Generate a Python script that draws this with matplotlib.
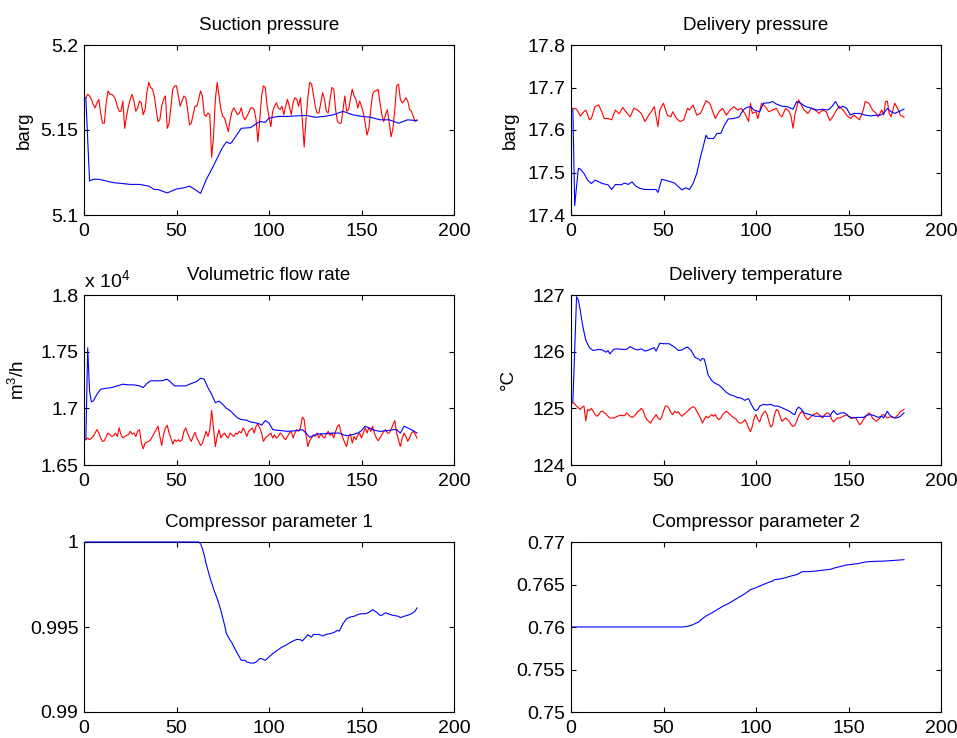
import matplotlib
matplotlib.use("Agg")
import matplotlib.pyplot as plt
from matplotlib.ticker import FuncFormatter

plt.rcParams['font.family'] = ['Liberation Sans', 'DejaVu Sans']
plt.rcParams['font.size'] = 14
plt.rcParams['mathtext.default'] = 'regular'

# ---- measured series (red) sampled every time step ----
t_meas = list(range(1, 181))

suction_meas = [
    5.169, 5.171, 5.170, 5.168, 5.165, 5.163, 5.166, 5.168, 5.160, 5.154,
    5.154, 5.166, 5.173, 5.171, 5.171, 5.170, 5.168, 5.164, 5.161, 5.161,
    5.167, 5.151, 5.158, 5.164, 5.168, 5.171, 5.167, 5.161, 5.163, 5.167,
    5.166, 5.159, 5.162, 5.172, 5.178, 5.175, 5.174, 5.170, 5.162, 5.155,
    5.156, 5.164, 5.168, 5.170, 5.151, 5.154, 5.164, 5.174, 5.176, 5.176,
    5.170, 5.164, 5.167, 5.170, 5.169, 5.162, 5.153, 5.154, 5.159, 5.164,
    5.164, 5.168, 5.173, 5.170, 5.159, 5.158, 5.160, 5.159, 5.134, 5.146,
    5.168, 5.178, 5.170, 5.162, 5.158, 5.157, 5.153, 5.149, 5.156, 5.161,
    5.163, 5.161, 5.159, 5.160, 5.163, 5.158, 5.156, 5.158, 5.160, 5.163,
    5.163, 5.162, 5.156, 5.143, 5.156, 5.170, 5.176, 5.175, 5.164, 5.158,
    5.152, 5.161, 5.164, 5.166, 5.163, 5.162, 5.164, 5.159, 5.164, 5.168,
    5.164, 5.159, 5.166, 5.169, 5.168, 5.164, 5.169, 5.156, 5.140, 5.156,
    5.169, 5.178, 5.177, 5.171, 5.164, 5.160, 5.160, 5.166, 5.172, 5.168,
    5.161, 5.160, 5.168, 5.175, 5.174, 5.162, 5.155, 5.154, 5.154, 5.162,
    5.170, 5.161, 5.162, 5.168, 5.174, 5.170, 5.168, 5.163, 5.167, 5.164,
    5.160, 5.154, 5.147, 5.151, 5.162, 5.171, 5.173, 5.173, 5.174, 5.166,
    5.159, 5.155, 5.159, 5.162, 5.154, 5.146, 5.151, 5.162, 5.176, 5.177,
    5.168, 5.166, 5.167, 5.169, 5.167, 5.162, 5.161, 5.158, 5.155, 5.156,
]

t_deliv_meas = [
    1, 3, 5, 7, 8, 10, 11, 13, 15, 17, 18, 20, 22, 24, 26, 28, 30, 32, 34, 36,
    38, 40, 42, 44, 45, 46, 47, 48, 50, 52, 54, 55, 57, 59, 61, 63, 64, 66, 68, 70,
    72, 73, 75, 77, 78, 80, 82, 84, 86, 88, 90, 92, 94, 96, 97, 98, 100, 101, 103, 105,
    107, 109, 111, 113, 114, 116, 118, 119, 120, 121, 123, 124, 126, 128, 130, 132, 134, 136, 138, 139,
    140, 142, 143, 145, 147, 149, 151, 153, 155, 156, 158, 159, 161, 163, 165, 166, 168, 169, 170, 171,
    172, 173, 175, 176, 177, 178, 180,
]
delivery_meas = [
    17.651, 17.649, 17.633, 17.643, 17.647, 17.624, 17.627, 17.655, 17.659, 17.639,
    17.627, 17.627, 17.624, 17.647, 17.638, 17.653, 17.641, 17.631, 17.651, 17.647,
    17.639, 17.620, 17.635, 17.647, 17.655, 17.631, 17.608, 17.647, 17.663, 17.635,
    17.631, 17.643, 17.627, 17.620, 17.624, 17.651, 17.647, 17.659, 17.635, 17.639,
    17.659, 17.669, 17.663, 17.639, 17.627, 17.643, 17.651, 17.635, 17.647, 17.655,
    17.647, 17.651, 17.639, 17.620, 17.663, 17.639, 17.643, 17.627, 17.663, 17.655,
    17.643, 17.647, 17.651, 17.635, 17.631, 17.651, 17.643, 17.631, 17.604, 17.635,
    17.671, 17.663, 17.647, 17.639, 17.651, 17.647, 17.639, 17.647, 17.643, 17.631,
    17.622, 17.635, 17.643, 17.656, 17.647, 17.635, 17.627, 17.635, 17.627, 17.624,
    17.647, 17.667, 17.663, 17.647, 17.639, 17.631, 17.647, 17.635, 17.667, 17.668,
    17.639, 17.631, 17.663, 17.655, 17.647, 17.635, 17.630,
]

flow_meas = [
    16723, 16738, 16723, 16738, 16752, 16782, 16812, 16782, 16738, 16708,
    16714, 16752, 16782, 16767, 16752, 16758, 16782, 16752, 16827, 16767,
    16738, 16752, 16761, 16767, 16797, 16773, 16782, 16752, 16797, 16812,
    16693, 16643, 16693, 16702, 16708, 16723, 16752, 16782, 16812, 16842,
    16752, 16672, 16767, 16827, 16851, 16782, 16738, 16684, 16723, 16708,
    16723, 16708, 16723, 16797, 16827, 16782, 16738, 16708, 16752, 16788,
    16738, 16708, 16672, 16693, 16744, 16797, 16752, 16812, 16981, 16827,
    16663, 16752, 16812, 16738, 16767, 16782, 16752, 16738, 16782, 16767,
    16752, 16782, 16773, 16797, 16782, 16827, 16797, 16752, 16797, 16812,
    16827, 16782, 16842, 16862, 16827, 16782, 16708, 16738, 16752, 16767,
    16782, 16738, 16767, 16738, 16752, 16782, 16767, 16738, 16723, 16752,
    16782, 16797, 16738, 16782, 16812, 16797, 16827, 16922, 16901, 16767,
    16663, 16714, 16738, 16767, 16752, 16782, 16738, 16773, 16752, 16738,
    16773, 16797, 16761, 16782, 16738, 16797, 16842, 16856, 16782, 16738,
    16693, 16663, 16752, 16773, 16693, 16752, 16723, 16761, 16782, 16738,
    16782, 16827, 16782, 16833, 16797, 16842, 16782, 16738, 16714, 16738,
    16767, 16797, 16812, 16782, 16782, 16812, 16856, 16892, 16782, 16723,
    16663, 16738, 16782, 16752, 16708, 16738, 16782, 16797, 16773, 16738,
]

temp_meas = [
    125.10, 125.08, 125.04, 125.01, 124.98, 125.02, 125.04, 124.78, 124.98, 124.96,
    125.00, 124.95, 124.89, 124.86, 124.89, 124.94, 124.95, 124.92, 124.90, 124.86,
    124.83, 124.83, 124.83, 124.84, 124.86, 124.87, 124.88, 124.87, 124.87, 124.92,
    124.89, 124.86, 124.84, 124.86, 124.89, 124.94, 124.96, 125.00, 124.96, 124.86,
    124.80, 124.77, 124.74, 124.80, 124.84, 124.89, 124.83, 124.80, 124.84, 124.95,
    125.04, 125.04, 125.00, 124.92, 124.89, 124.95, 124.92, 124.94, 124.89, 124.86,
    124.89, 124.92, 124.95, 124.98, 125.01, 125.03, 125.01, 124.95, 124.89, 124.83,
    124.74, 124.80, 124.86, 124.83, 124.86, 124.89, 124.86, 124.89, 124.83, 124.80,
    124.83, 124.89, 124.92, 124.95, 124.92, 124.89, 124.86, 124.83, 124.82, 124.77,
    124.74, 124.74, 124.76, 124.80, 124.74, 124.65, 124.59, 124.68, 124.83, 124.89,
    124.80, 124.76, 124.86, 124.92, 124.95, 124.89, 124.77, 124.67, 124.71, 124.89,
    124.98, 124.96, 124.86, 124.77, 124.80, 124.83, 124.80, 124.77, 124.71, 124.68,
    124.70, 124.77, 124.86, 124.92, 124.95, 124.89, 124.83, 124.80, 124.83, 124.86,
    124.89, 124.90, 124.92, 124.89, 124.86, 124.83, 124.88, 124.91, 124.92, 124.89,
    124.80, 124.76, 124.80, 124.83, 124.83, 124.84, 124.86, 124.87, 124.89, 124.86,
    124.83, 124.82, 124.84, 124.83, 124.77, 124.71, 124.74, 124.80, 124.84, 124.88,
    124.92, 124.89, 124.83, 124.80, 124.77, 124.80, 124.83, 124.88, 124.89, 124.86,
    124.83, 124.84, 124.86, 124.84, 124.83, 124.86, 124.89, 124.94, 124.96, 124.98,
]

# ---- model estimates (blue) ----
t_suction_est = [1, 3, 5, 8, 12, 16, 20, 25, 30, 35, 38, 40, 45, 50, 54, 57, 60, 63, 66, 70,
                 75, 77, 79, 80, 85, 90, 95, 98, 100, 105, 110, 120, 125, 130, 135, 140, 145, 150, 155, 160,
                 165, 170, 175, 180]
suction_est = [5.169, 5.120, 5.121, 5.121, 5.120, 5.119, 5.1186, 5.118, 5.118, 5.117,
               5.115, 5.115, 5.113, 5.1153, 5.116, 5.117, 5.115, 5.1127, 5.1206, 5.129,
               5.140, 5.143, 5.142, 5.143, 5.151, 5.1514, 5.155, 5.1545, 5.157, 5.158,
               5.158, 5.1586, 5.1575, 5.158, 5.159, 5.161, 5.159, 5.158, 5.1575, 5.156,
               5.156, 5.154, 5.156, 5.1555]

t_deliv_est = [1, 2, 3, 4, 5, 7, 9, 11, 13, 15, 17, 20, 22, 24, 27, 29, 31, 33, 35, 37,
               40, 43, 46, 47, 49, 51, 54, 56, 58, 60, 62, 64, 66, 68, 70, 71, 73, 74, 77, 79,
               81, 83, 85, 88, 91, 93, 95, 97, 99, 102, 104, 107, 109, 111, 114, 117, 120, 122, 124, 127,
               130, 133, 136, 139, 141, 143, 145, 147, 149, 151, 153, 156, 159, 162, 165, 167, 169, 171, 173, 175,
               177, 180]
delivery_est = [17.65, 17.422, 17.467, 17.51, 17.508, 17.498, 17.482, 17.474, 17.482, 17.478,
                17.474, 17.471, 17.46, 17.472, 17.471, 17.475, 17.472, 17.478, 17.468, 17.463,
                17.46, 17.46, 17.46, 17.453, 17.484, 17.482, 17.478, 17.475, 17.467, 17.459,
                17.464, 17.46, 17.474, 17.498, 17.537, 17.553, 17.588, 17.58, 17.58, 17.592,
                17.592, 17.612, 17.626, 17.627, 17.631, 17.647, 17.653, 17.655, 17.647, 17.643,
                17.663, 17.664, 17.667, 17.661, 17.656, 17.655, 17.649, 17.667, 17.663, 17.655,
                17.651, 17.647, 17.649, 17.647, 17.655, 17.667, 17.651, 17.656, 17.651, 17.635,
                17.639, 17.639, 17.635, 17.633, 17.635, 17.635, 17.639, 17.651, 17.643, 17.639,
                17.643, 17.649]

t_flow_est = [1, 2, 3, 4, 5, 7, 9, 12, 15, 18, 21, 24, 27, 30, 32, 34, 36, 39, 42, 45,
              47, 49, 52, 55, 58, 61, 63, 65, 67, 69, 71, 73, 75, 77, 79, 81, 83, 85, 88, 90,
              93, 95, 96, 98, 100, 102, 105, 110, 115, 118, 120, 122, 124, 126, 130, 135, 138, 140, 142, 145,
              148, 150, 152, 154, 156, 158, 160, 164, 167, 169, 171, 173, 175, 177, 180]
flow_est = [16723, 17534, 17153, 17058, 17064, 17124, 17168, 17177, 17183, 17198,
            17213, 17207, 17207, 17198, 17183, 17219, 17243, 17243, 17243, 17257,
            17228, 17198, 17198, 17198, 17219, 17237, 17266, 17257, 17183, 17124,
            17050, 17064, 17035, 16999, 16981, 16946, 16916, 16901, 16895, 16880,
            16871, 16862, 16851, 16892, 16871, 16812, 16806, 16797, 16803, 16812,
            16782, 16744, 16758, 16773, 16776, 16782, 16782, 16767, 16758, 16767,
            16782, 16803, 16842, 16827, 16812, 16803, 16797, 16803, 16812, 16812,
            16782, 16842, 16827, 16812, 16782]

t_temp_est = [1, 3, 4, 5, 6, 7, 8, 10, 12, 15, 17, 19, 20, 21, 23, 25, 28, 30, 32, 34,
              36, 38, 40, 42, 45, 46, 47, 48, 50, 53, 56, 58, 60, 62, 63, 65, 67, 69, 70, 71,
              72, 73, 74, 76, 78, 80, 82, 84, 86, 88, 90, 92, 94, 95, 96, 97, 98, 99, 100, 101,
              102, 104, 106, 108, 110, 112, 114, 116, 118, 120, 121, 122, 123, 124, 126, 128, 130, 132, 135, 138,
              140, 141, 142, 143, 144, 146, 148, 150, 152, 155, 158, 160, 162, 164, 166, 168, 169, 170, 171, 172,
              173, 175, 177, 178, 180]
temp_est = [125.10, 126.97, 126.91, 126.73, 126.52, 126.35, 126.20, 126.07, 126.02, 126.04,
            126.03, 125.99, 126.02, 125.96, 126.04, 126.05, 126.04, 126.04, 126.09, 126.05,
            126.03, 126.05, 126.01, 126.03, 126.07, 126.01, 126.08, 126.15, 126.14, 126.14,
            126.08, 126.02, 126.03, 126.07, 126.08, 126.02, 125.90, 125.87, 125.84, 125.88,
            125.87, 125.75, 125.60, 125.49, 125.44, 125.41, 125.35, 125.28, 125.24, 125.22,
            125.19, 125.18, 125.14, 125.16, 125.17, 125.10, 125.04, 124.98, 124.96, 124.98,
            125.04, 125.07, 125.06, 125.07, 125.04, 125.04, 125.01, 124.98, 124.95, 124.90,
            124.89, 124.98, 125.02, 125.00, 124.92, 124.90, 124.88, 124.86, 124.86, 124.86,
            124.86, 124.92, 124.96, 124.92, 124.89, 124.92, 124.92, 124.86, 124.83, 124.84,
            124.84, 124.88, 124.89, 124.87, 124.84, 124.86, 124.83, 124.89, 124.95, 124.89,
            124.86, 124.83, 124.84, 124.86, 124.92]

t_param1 = [1, 62, 63, 64, 65, 66, 68, 70, 72, 74, 76, 77, 79, 80, 82, 84, 85, 87, 88, 90,
            92, 93, 95, 96, 98, 100, 102, 105, 107, 109, 111, 113, 115, 117, 118, 120, 121, 122, 123, 124,
            126, 127, 129, 131, 133, 135, 137, 138, 140, 142, 144, 146, 148, 150, 152, 154, 156, 158, 160, 161,
            163, 165, 167, 170, 171, 173, 175, 177, 179, 180]
param1 = [1.0, 1.0, 0.99990, 0.99961, 0.99922, 0.99873, 0.99794, 0.99725, 0.99667, 0.99598,
          0.99510, 0.99461, 0.99422, 0.99406, 0.99363, 0.99324, 0.99304, 0.99304, 0.99294, 0.99288,
          0.99288, 0.99294, 0.99314, 0.99314, 0.99304, 0.99324, 0.99343, 0.99367, 0.99382, 0.99392,
          0.99406, 0.99418, 0.99427, 0.99425, 0.99418, 0.99441, 0.99455, 0.99447, 0.99441, 0.99457,
          0.99455, 0.99457, 0.99447, 0.99457, 0.99461, 0.99467, 0.99480, 0.99476, 0.99520, 0.99549,
          0.99559, 0.99563, 0.99573, 0.99578, 0.99578, 0.99586, 0.99602, 0.99588, 0.99569, 0.99569,
          0.99584, 0.99575, 0.99569, 0.99563, 0.99555, 0.99563, 0.99569, 0.99578, 0.99594, 0.99612]

t_param2 = [1, 60, 63, 65, 67, 69, 71, 73, 76, 79, 82, 85, 88, 91, 94, 97, 100, 103, 106, 109,
            110, 113, 116, 119, 122, 125, 128, 131, 134, 137, 140, 143, 146, 149, 152, 155, 158, 161, 165, 170,
            175, 180]
param2 = [0.76, 0.76, 0.76008, 0.76020, 0.76039, 0.76059, 0.76098, 0.7613, 0.76165, 0.76204,
          0.76243, 0.76275, 0.76314, 0.76353, 0.76392, 0.76439, 0.76463, 0.7649, 0.76518, 0.76541,
          0.76557, 0.76565, 0.7658, 0.76600, 0.76616, 0.76651, 0.76651, 0.76655, 0.76663, 0.76671,
          0.76678, 0.76698, 0.76714, 0.7673, 0.76737, 0.76745, 0.76761, 0.76769, 0.76773, 0.76776,
          0.76784, 0.76792]

# ---- figure layout (pixels -> figure fractions) ----
W, H = 957, 738
fig = plt.figure(figsize=(W / 100, H / 100), dpi=100)

col_left = [84, 571]
row_top = [45, 295, 542]
ax_w, ax_h = 370, 170


def make_axes(row, col):
    left = col_left[col] / W
    bottom = (H - row_top[row] - ax_h) / H
    ax = fig.add_axes([left, bottom, ax_w / W, ax_h / H])
    for s in ax.spines.values():
        s.set_linewidth(0.8)
    ax.tick_params(direction='in', length=3.5, width=0.8, top=True, right=True,
                   labelsize=14)
    ax.tick_params(axis='x', pad=6)
    ax.tick_params(axis='y', pad=4)
    ax.set_xlim(0, 200)
    ax.set_xticks([0, 50, 100, 150, 200])
    ax.yaxis.set_major_formatter(FuncFormatter(lambda v, p: '%g' % round(v, 6)))
    return ax


def finish(ax, title, ylim, yticks, ylabel=None, labx=-0.13):
    ax.set_title(title, fontsize=13.5, pad=11)
    ax.set_ylim(*ylim)
    ax.set_yticks(yticks)
    if ylabel:
        ax.set_ylabel(ylabel, fontsize=13.5)
        ax.yaxis.set_label_coords(labx, 0.5)


blue = (0, 0, 1)
red = (1, 0, 0)
lw = 0.8

# Suction pressure
ax = make_axes(0, 0)
ax.plot(t_meas, suction_meas, color=red, lw=lw)
ax.plot(t_suction_est, suction_est, color=blue, lw=lw)
finish(ax, 'Suction pressure', (5.1, 5.2), [5.1, 5.15, 5.2], 'barg', -0.138)

# Delivery pressure
ax = make_axes(0, 1)
ax.plot(t_deliv_meas, delivery_meas, color=red, lw=lw)
ax.plot(t_deliv_est, delivery_est, color=blue, lw=lw)
finish(ax, 'Delivery pressure', (17.4, 17.8), [17.4, 17.5, 17.6, 17.7, 17.8], 'barg', -0.14)

# Volumetric flow rate (tick labels in units of 1e4)
ax = make_axes(1, 0)
ax.plot(t_meas, flow_meas, color=red, lw=lw)
ax.plot(t_flow_est, flow_est, color=blue, lw=lw)
finish(ax, 'Volumetric flow rate', (16500, 18000), [16500, 17000, 17500, 18000],
       'm$^3$/h', -0.15)
ax.yaxis.set_major_formatter(FuncFormatter(lambda v, p: '%g' % round(v / 1e4, 6)))
ax.text(0.0, 1 + 8 / ax_h, 'x 10$^4$', transform=ax.transAxes,
        ha='left', va='baseline', fontsize=14)

# Delivery temperature
ax = make_axes(1, 1)
ax.plot(t_meas, temp_meas, color=red, lw=lw)
ax.plot(t_temp_est, temp_est, color=blue, lw=lw)
finish(ax, 'Delivery temperature', (124, 127), [124, 125, 126, 127], '°C', -0.145)

# Compressor parameter 1
ax = make_axes(2, 0)
ax.plot(t_param1, param1, color=blue, lw=lw, clip_on=False, zorder=3)
finish(ax, 'Compressor parameter 1', (0.99, 1.0), [0.99, 0.995, 1.0])

# Compressor parameter 2
ax = make_axes(2, 1)
ax.plot(t_param2, param2, color=blue, lw=lw)
finish(ax, 'Compressor parameter 2', (0.75, 0.77), [0.75, 0.755, 0.76, 0.765, 0.77])

fig.savefig('out.png', dpi=100)
